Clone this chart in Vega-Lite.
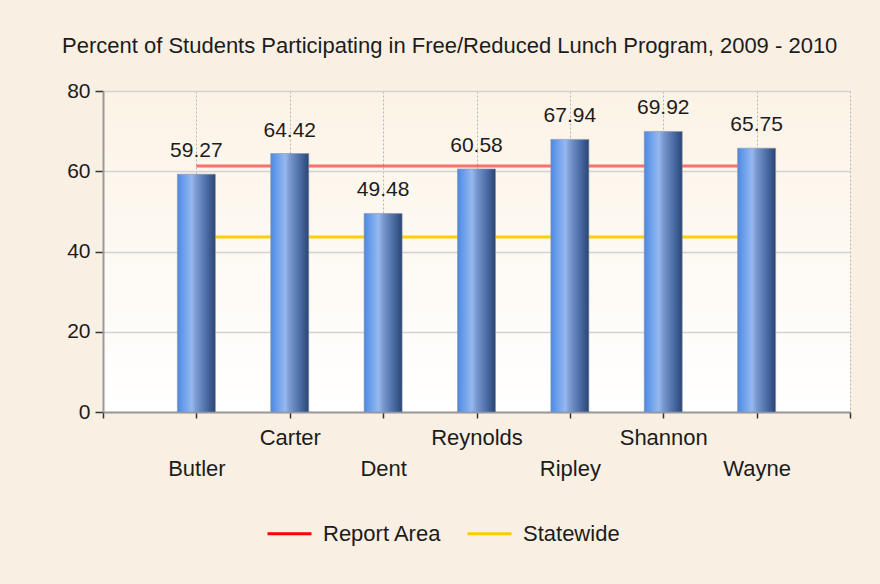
{
  "$schema": "https://vega.github.io/schema/vega-lite/v6.json",
  "width": 747,
  "height": 321,
  "autosize": {"type": "none"},
  "padding": {"left": 103, "top": 91, "right": 30, "bottom": 172},
  "background": "#f9efe3",
  "title": {
    "text": "Percent of Students Participating in Free/Reduced Lunch Program, 2009 - 2010",
    "anchor": "start",
    "frame": "group",
    "dx": -41,
    "dy": 32,
    "offset": 37,
    "baseline": "alphabetic",
    "font": "Liberation Sans",
    "fontSize": 22,
    "fontWeight": "normal",
    "color": "#1c1c1c"
  },
  "datasets": {
    "counties": [
      {"county": "Butler", "pct": 59.27},
      {"county": "Carter", "pct": 64.42},
      {"county": "Dent", "pct": 49.48},
      {"county": "Reynolds", "pct": 60.58},
      {"county": "Ripley", "pct": 67.94},
      {"county": "Shannon", "pct": 69.92},
      {"county": "Wayne", "pct": 65.75}
    ],
    "lines": [
      {"series": "Report Area", "county": "Butler", "pct": 61.3},
      {"series": "Report Area", "county": "Wayne", "pct": 61.3},
      {"series": "Statewide", "county": "Butler", "pct": 43.6},
      {"series": "Statewide", "county": "Wayne", "pct": 43.6}
    ]
  },
  "layer": [
    {
      "data": {"name": "lines"},
      "mark": {"type": "line", "strokeWidth": 3},
      "encoding": {
        "x": {
          "field": "county",
          "type": "nominal",
          "scale": {"type": "point", "domain": ["", "Butler", "Carter", "Dent", "Reynolds", "Ripley", "Shannon", "Wayne", " "], "padding": 0},
          "axis": {
            "title": null,
            "labelAngle": 0,
            "labelFont": "Liberation Sans",
            "labelFontSize": 22,
            "labelColor": "#1c1c1c",
            "labelBaseline": "top",
            "labelLineHeight": 31,
            "labelPadding": 9,
            "labelExpr": "round(datum.index * 8) % 2 == 1 ? ['', datum.label] : datum.label",
            "tickSize": 6,
            "tickColor": "#333333",
            "tickWidth": 1.5,
            "domainColor": "#9a9a9a",
            "domainWidth": 2,
            "grid": true,
            "gridDash": [2, 2],
            "gridColor": "#b5b5b5",
            "gridWidth": 1
          }
        },
        "y": {
          "field": "pct",
          "type": "quantitative",
          "scale": {"domain": [0, 80], "nice": false},
          "axis": {
            "title": null,
            "values": [0, 20, 40, 60, 80],
            "labelFont": "Liberation Sans",
            "labelFontSize": 21,
            "labelColor": "#1c1c1c",
            "labelPadding": 5,
            "tickSize": 8,
            "tickColor": "#333333",
            "tickWidth": 1.5,
            "domainColor": "#9a9a9a",
            "domainWidth": 2,
            "grid": true,
            "gridColor": "#d2d2d2",
            "gridWidth": 1.5
          }
        },
        "color": {
          "field": "series",
          "type": "nominal",
          "scale": {"domain": ["Report Area", "Statewide"], "range": ["#ff0000", "#ffcc00"]},
          "legend": {
            "title": null,
            "orient": "none",
            "direction": "horizontal",
            "legendX": 163,
            "legendY": 419,
            "symbolType": "stroke",
            "symbolSize": 1936,
            "symbolStrokeWidth": 3,
            "symbolOpacity": 1,
            "labelFont": "Liberation Sans",
            "labelFontSize": 22,
            "labelColor": "#1c1c1c",
            "labelOffset": 10,
            "columnPadding": 19
          }
        },
        "strokeOpacity": {
          "field": "series",
          "type": "nominal",
          "scale": {"domain": ["Report Area", "Statewide"], "range": [0.55, 0.95]},
          "legend": null
        }
      }
    },
    {
      "data": {"name": "counties"},
      "mark": {
        "type": "bar",
        "size": 38,
        "stroke": "#8796ad",
        "strokeWidth": 0.6,
        "color": {
          "gradient": "linear",
          "x1": 0, "y1": 0, "x2": 1, "y2": 0,
          "stops": [
            {"offset": 0, "color": "#4f86dc"},
            {"offset": 0.1, "color": "#5f97ea"},
            {"offset": 0.38, "color": "#95b8ef"},
            {"offset": 0.52, "color": "#7595cc"},
            {"offset": 0.78, "color": "#4a6aa3"},
            {"offset": 1, "color": "#2a4573"}
          ]
        }
      },
      "encoding": {
        "x": {"field": "county", "type": "nominal"},
        "y": {"field": "pct", "type": "quantitative"}
      }
    },
    {
      "data": {"name": "counties"},
      "mark": {"type": "text", "baseline": "alphabetic", "dy": -17, "font": "Liberation Sans", "fontSize": 21, "color": "#1c1c1c"},
      "encoding": {
        "x": {"field": "county", "type": "nominal"},
        "y": {"field": "pct", "type": "quantitative"},
        "text": {"field": "pct", "type": "quantitative", "format": ".2f"}
      }
    }
  ],
  "config": {
    "view": {
      "stroke": null,
      "fill": {
        "gradient": "linear",
        "x1": 0, "y1": 0, "x2": 0, "y2": 1,
        "stops": [
          {"offset": 0, "color": "#fcf3e6"},
          {"offset": 1, "color": "#ffffff"}
        ]
      }
    }
  }
}
